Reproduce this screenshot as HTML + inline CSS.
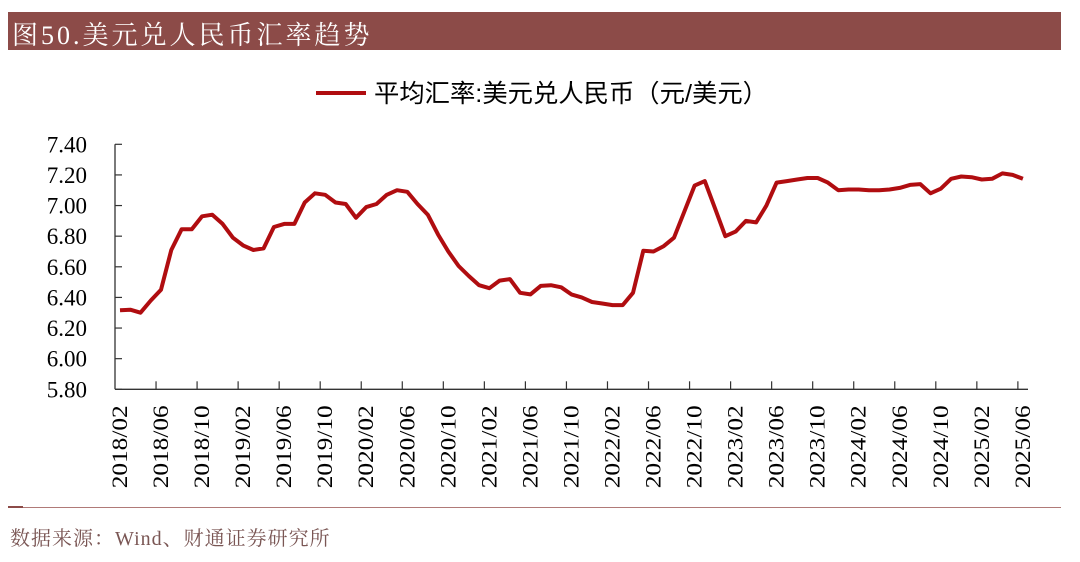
<!DOCTYPE html>
<html><head><meta charset="utf-8"><style>
body{margin:0;background:#fff;}
#wrap{position:relative;width:1080px;height:562px;overflow:hidden;font-family:"Liberation Serif","Noto Serif CJK SC",serif;}
</style></head><body>
<div id="wrap">
<div style="position:absolute;left:8px;top:12px;width:1053px;height:38px;background:#8c4b48;"></div>
<div style="position:absolute;left:12px;top:15px;color:#fff;font-size:26px;letter-spacing:3px;font-family:'Liberation Serif','Noto Serif CJK SC',serif;">图50.美元兑人民币汇率趋势</div>
<svg id="chart" width="1080" height="562" style="position:absolute;left:0;top:0;"></svg>
<div style="position:absolute;left:8px;top:507px;width:1053px;height:1px;background:#b07a78;"></div>
<div style="position:absolute;left:8px;top:506px;width:15px;height:2px;background:#8c4b48;"></div>
<div style="position:absolute;left:10px;top:522px;color:#7a5654;font-size:20px;letter-spacing:1px;font-family:'Liberation Serif','Noto Serif CJK SC',serif;">数据来源：Wind、财通证券研究所</div>
</div>
<script>
const values=[6.316,6.32,6.30,6.38,6.45,6.71,6.845,6.845,6.93,6.94,6.88,6.79,6.74,6.71,6.72,6.86,6.88,6.88,7.02,7.08,7.07,7.02,7.01,6.92,6.99,7.01,7.07,7.10,7.09,7.01,6.94,6.81,6.70,6.605,6.54,6.48,6.46,6.51,6.52,6.43,6.42,6.475,6.48,6.466,6.42,6.40,6.37,6.36,6.35,6.35,6.43,6.705,6.70,6.735,6.79,6.96,7.13,7.16,6.98,6.80,6.83,6.90,6.89,7.00,7.15,7.16,7.17,7.18,7.18,7.15,7.10,7.105,7.105,7.10,7.10,7.105,7.115,7.135,7.14,7.08,7.11,7.175,7.19,7.185,7.17,7.175,7.21,7.20,7.175];
const yTicks=[5.80,6.00,6.20,6.40,6.60,6.80,7.00,7.20,7.40];
const startYear=2018, startMonth=2;
const NS="http://www.w3.org/2000/svg";
const svg=document.getElementById('chart');
const x0=115,yTop=144.3,yBot=389.3,yMin=5.8,yMax=7.4;
const n=values.length;
const step=10.26;
function xPos(i){return 120+i*step;}
function yPos(v){return yBot-(v-yMin)/(yMax-yMin)*(yBot-yTop);}
function mk(t,a){const e=document.createElementNS(NS,t);for(const k in a)e.setAttribute(k,a[k]);svg.appendChild(e);return e;}
function label(i){let m=startMonth-1+i;const y=startYear+Math.floor(m/12);m=m%12+1;return y+'/'+(m<10?'0':'')+m;}
let e=mk('line',{x1:x0,y1:yTop,x2:x0,y2:yBot,stroke:'#333','stroke-width':1.3});


e=mk('line',{x1:x0,y1:yBot,x2:1028,y2:yBot,stroke:'#333','stroke-width':1.3});


yTicks.forEach(v=>{
  const y=yPos(v);
  let t=mk('line',{x1:x0,y1:y,x2:x0+7,y2:y,stroke:'#333','stroke-width':1.2});
  
  
  let tx=mk('text',{x:87,y:y+8,'text-anchor':'end','font-size':23,fill:'#000','font-family':'Liberation Serif, serif'});
  tx.textContent=v.toFixed(2);
  
  
});
for(let i=0;i<n;i+=4){
  const xt=x0+i*step;
  if(i>0){let t=mk('line',{x1:xt,y1:yBot,x2:xt,y2:yBot-8,stroke:'#333','stroke-width':1.2});
  
  }
  const xl=xPos(i);
  let tx=mk('text',{x:0,y:0,'text-anchor':'end','font-size':22,textLength:83,lengthAdjust:'spacingAndGlyphs',fill:'#000','font-family':'Liberation Serif, serif',transform:`translate(${xl+7},${yBot+16}) rotate(-90)`});
  tx.textContent=label(i);
  
  
}
let d=values.map((v,i)=>(i?'L':'M')+xPos(i).toFixed(1)+','+yPos(v).toFixed(1)).join(' ');
let p=mk('path',{d:d,fill:'none',stroke:'#b00d10','stroke-width':4,'stroke-linejoin':'round'});


let ll=mk('line',{x1:316,y1:93,x2:366,y2:93,stroke:'#b00d10','stroke-width':4});


let lt=mk('text',{x:374,y:102,'font-size':25,textLength:394,lengthAdjust:'spacingAndGlyphs',fill:'#000','font-family':'Liberation Sans, Noto Sans CJK SC, sans-serif'});
lt.textContent='平均汇率:美元兑人民币（元/美元）';


</script>
</body></html>
